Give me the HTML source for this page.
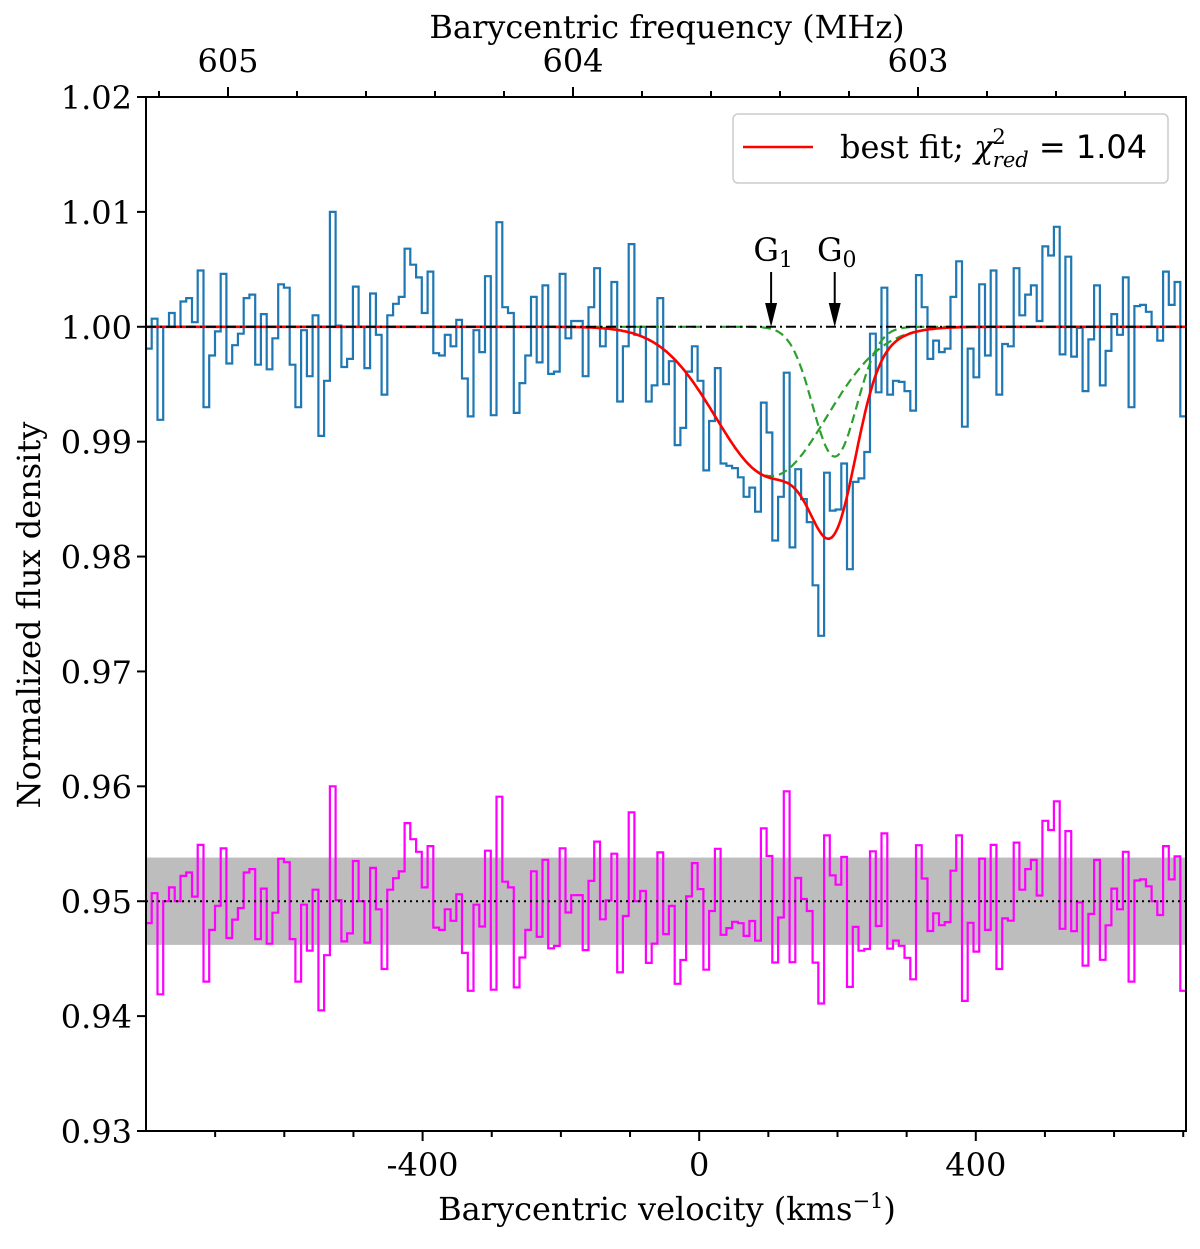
<!DOCTYPE html>
<html><head><meta charset="utf-8"><style>
body{margin:0;background:#fff}
svg text{font-family:"DejaVu Serif","Liberation Serif",serif;fill:#000}
</style></head><body>
<svg id="chart" width="1200" height="1244" viewBox="0 0 1200 1244" xmlns="http://www.w3.org/2000/svg">
<g id="plot"></g>
</svg>
<script>
// ---- data ----
const vStart = -800;
const vStep = 8.31;
// blue spectrum: deviations from 1 in units of 0.001
const fluxDev = [-1.9,0.7,-8.1,0,1.2,0,2.2,2.5,0.4,4.9,-7,-2.5,-0.4,4.6,-3.2,-1.6,-0.6,2.5,2.8,-3.3,1.1,-3.7,-1,3.7,3.4,-3.3,-7,-0.3,-4.3,1,-9.5,-4.7,10,0.1,-3.5,-2.8,3.5,0,-3.6,2.9,-0.7,-5.9,1,2,2.6,
6.8,5.4,4.3,1.2,4.8,-2.3,-2.5,-0.7,-1.7,0.6,-4.5,-7.8,-0.3,-2.2,4.4,-7.7,9.1,1.7,1.2,-7.5,-4.9,-2.5,2.6,-3.1,3.6,-4.1,-3.9,4.6,-1,0.5,0.5,-4.3,1.7,5.1,-1.7,-0.1,3.9,-6.5,-1.7,7.2,-0.7,0,-6.5,-5.1,2.5,
-5,-3,-10.3,-8.8,-3.9,-1.7,-4.7,-12.5,-8.2,-3.6,-11.9,-12.1,-12.3,-13.1,-14.8,-14,-16.1,-6.6,-9.2,-18.6,-14.8,-4,-19.2,-12.4,-15,-17,-22.5,-26.9,-12.7,-16,-15.9,-11.9,-21.1,-13.5,-13.2,-10.9,-0.6,-5.7,3.4,-5.9,-4.7,-4.8,-5.6,-7.3,4.5,
1.7,-2.8,-1.2,-2.2,-1.9,2.6,5.7,-8.7,-1.9,-4.4,3.7,-2.5,4.9,-5.9,-1.5,-1.7,5.1,1,2.8,3.6,0.5,7,6.2,8.7,-2.4,6.1,-2.6,-0.1,-5.6,-1.1,3.6,-5.1,-2.1,1.1,-0.7,4.3,-7,1.8,1.9,1.3,0,-1.2,4.8,1.9,3.9,-7.8];
// Gaussian components [center km/s, depth (0.001), sigma km/s]
const compG1 = [104, 13.0, 80];
const compG0 = [196, 11.3, 32];
const residOffset = 0.95;
const bandHalf = 0.0038;
const yTicks = [0.93,0.94,0.95,0.96,0.97,0.98,0.99,1.00,1.01,1.02];
const xTicks = [-400,0,400];
const fTicks = [605,604,603];

// ---- axes ----
const L=146,R=1186,T=97,B=1131;
const vMin=-800,vMax=704,yMin=0.93,yMax=1.02;
const xs=v=>L+(v-vMin)/(vMax-vMin)*(R-L);
const ys=y=>B-(y-yMin)/(yMax-yMin)*(B-T);
const fx=f=>573+(604-f)*345;
const NS="http://www.w3.org/2000/svg";
const g=document.getElementById('plot');
function mk(tag,attrs,parent){const e=document.createElementNS(NS,tag);for(const k in attrs)e.setAttribute(k,attrs[k]);(parent||g).appendChild(e);return e;}
const gauss=(c,v)=>c[1]/1000*Math.exp(-((v-c[0])**2)/(2*c[2]*c[2]));
const model=v=>1-gauss(compG1,v)-gauss(compG0,v);

const defs=mk('defs',{});
const cp=mk('clipPath',{id:'clip'},defs);
mk('rect',{x:L,y:T,width:R-L,height:B-T},cp);
const clipG=mk('g',{'clip-path':'url(#clip)'});

const band=mk('rect',{x:L,y:ys(residOffset+bandHalf),width:R-L,height:ys(residOffset-bandHalf)-ys(residOffset+bandHalf),fill:'#bdbdbd'},clipG);



function stepPath(vals){
  let d='';
  vals.forEach((y,i)=>{const x0=xs(vStart+i*vStep),x1=xs(vStart+(i+1)*vStep),yy=ys(y);
    d+=(i===0?'M':'L')+x0.toFixed(1)+','+yy.toFixed(1)+'L'+x1.toFixed(1)+','+yy.toFixed(1);});
  return d;
}
const flux=fluxDev.map(d=>1+d/1000);
const resid=flux.map((f,i)=>residOffset+f-model(vStart+(i+0.5)*vStep));

const bl=mk('path',{d:stepPath(flux),fill:'none',stroke:'#1f77b4','stroke-width':2.2},clipG);


const mg=mk('path',{d:stepPath(resid),fill:'none',stroke:'#ff00ff','stroke-width':2.2},clipG);



const dot=mk('line',{x1:L,x2:R,y1:ys(residOffset),y2:ys(residOffset),stroke:'#000','stroke-width':2,'stroke-dasharray':'2,4'},clipG);



function curve(fn){let d='';for(let v=vMin;v<=vMax;v+=2){d+=(v===vMin?'M':'L')+xs(v).toFixed(1)+','+ys(fn(v)).toFixed(1);}return d;}
[compG1,compG0].forEach((c,k)=>{
  const p=mk('path',{d:curve(v=>1-gauss(c,v)),fill:'none',stroke:'#2ca02c','stroke-width':2.2,'stroke-dasharray':'9,5'},clipG);
  
  
});
const rd=mk('path',{d:curve(model),fill:'none',stroke:'#ff0000','stroke-width':2.6},clipG);


const base=mk('line',{x1:L,x2:R,y1:ys(1),y2:ys(1),stroke:'#000','stroke-width':2,'stroke-dasharray':'10,4,2,4'},clipG);



[[compG1,'G','1','g1'],[compG0,'G','0','g0']].forEach(a=>{
  const x=xs(a[0][0]);
  const ln=mk('line',{x1:x,x2:x,y1:272,y2:305,stroke:'#000','stroke-width':2});
  
  
  const hd=mk('polygon',{points:`${x-6},303 ${x+6},303 ${x},327`,fill:'#000'});
  
  
  const t=mk('text',{x:x+2,y:261,'font-size':32,'text-anchor':'middle'});
  
  
  t.innerHTML=a[1]+'<tspan font-size="22" dy="6">'+a[2]+'</tspan>';
});

const fr=mk('rect',{x:L,y:T,width:R-L,height:B-T,fill:'none',stroke:'#000','stroke-width':2});



yTicks.forEach(t=>{
  const y=ys(t);
  const tk=mk('line',{x1:L-9,x2:L,y1:y,y2:y,stroke:'#000','stroke-width':2});
  
  
  const tx=mk('text',{x:L-14,y:y+12,'font-size':32,'text-anchor':'end'});
  
  
  tx.textContent=t.toFixed(2);
});
for(let v=-700;v<=700;v+=100){
  const x=xs(v);if(x>R)continue;
  const major=xTicks.includes(v);
  const tk=mk('line',{x1:x,x2:x,y1:B,y2:B+(major?10:6),stroke:'#000','stroke-width':2});
  
  
}
xTicks.forEach(v=>{
  const tx=mk('text',{x:xs(v),y:B+45,'font-size':32,'text-anchor':'middle'});
  
  
  tx.textContent=v;
});
for(let i=0;i<=15;i++){
  const f=605.4-i*0.2;const x=fx(f);
  if(x<L||x>R)continue;
  const major=Math.abs(f-Math.round(f))<0.01;
  const tk=mk('line',{x1:x,x2:x,y1:T,y2:T-(major?10:6),stroke:'#000','stroke-width':2});
  
  
}
fTicks.forEach(f=>{
  const tx=mk('text',{x:fx(f),y:72,'font-size':32,'text-anchor':'middle'});
  
  
  tx.textContent=f;
});

let t=mk('text',{x:667,y:1220,'font-size':32,'text-anchor':'middle'});


t.innerHTML='Barycentric velocity (kms<tspan font-size="21" dy="-12">−1</tspan><tspan dy="12">)</tspan>';
t=mk('text',{x:667,y:38,'font-size':32,'text-anchor':'middle'});


t.textContent='Barycentric frequency (MHz)';
t=mk('text',{x:0,y:0,'font-size':32,'text-anchor':'middle',transform:'translate(40,615) rotate(-90)'});


t.textContent='Normalized flux density';

const lg=mk('g',{});


mk('rect',{x:733,y:114,width:435,height:69,rx:5,fill:'#fff',stroke:'#ccc','stroke-width':1.5},lg);
const ll=mk('line',{x1:743,x2:813,y1:147,y2:147,stroke:'#ff0000','stroke-width':2.6},lg);


const lt=mk('text',{x:840,y:158,'font-size':32},lg);


lt.innerHTML='best fit; <tspan font-style="italic">χ</tspan><tspan font-size="21" dy="-14" dx="-1">2</tspan><tspan font-size="21" font-style="italic" dy="23" dx="-13">red</tspan><tspan dy="-9" font-family="DejaVu Sans, sans-serif"> = 1.04</tspan>';
</script>
</body></html>
